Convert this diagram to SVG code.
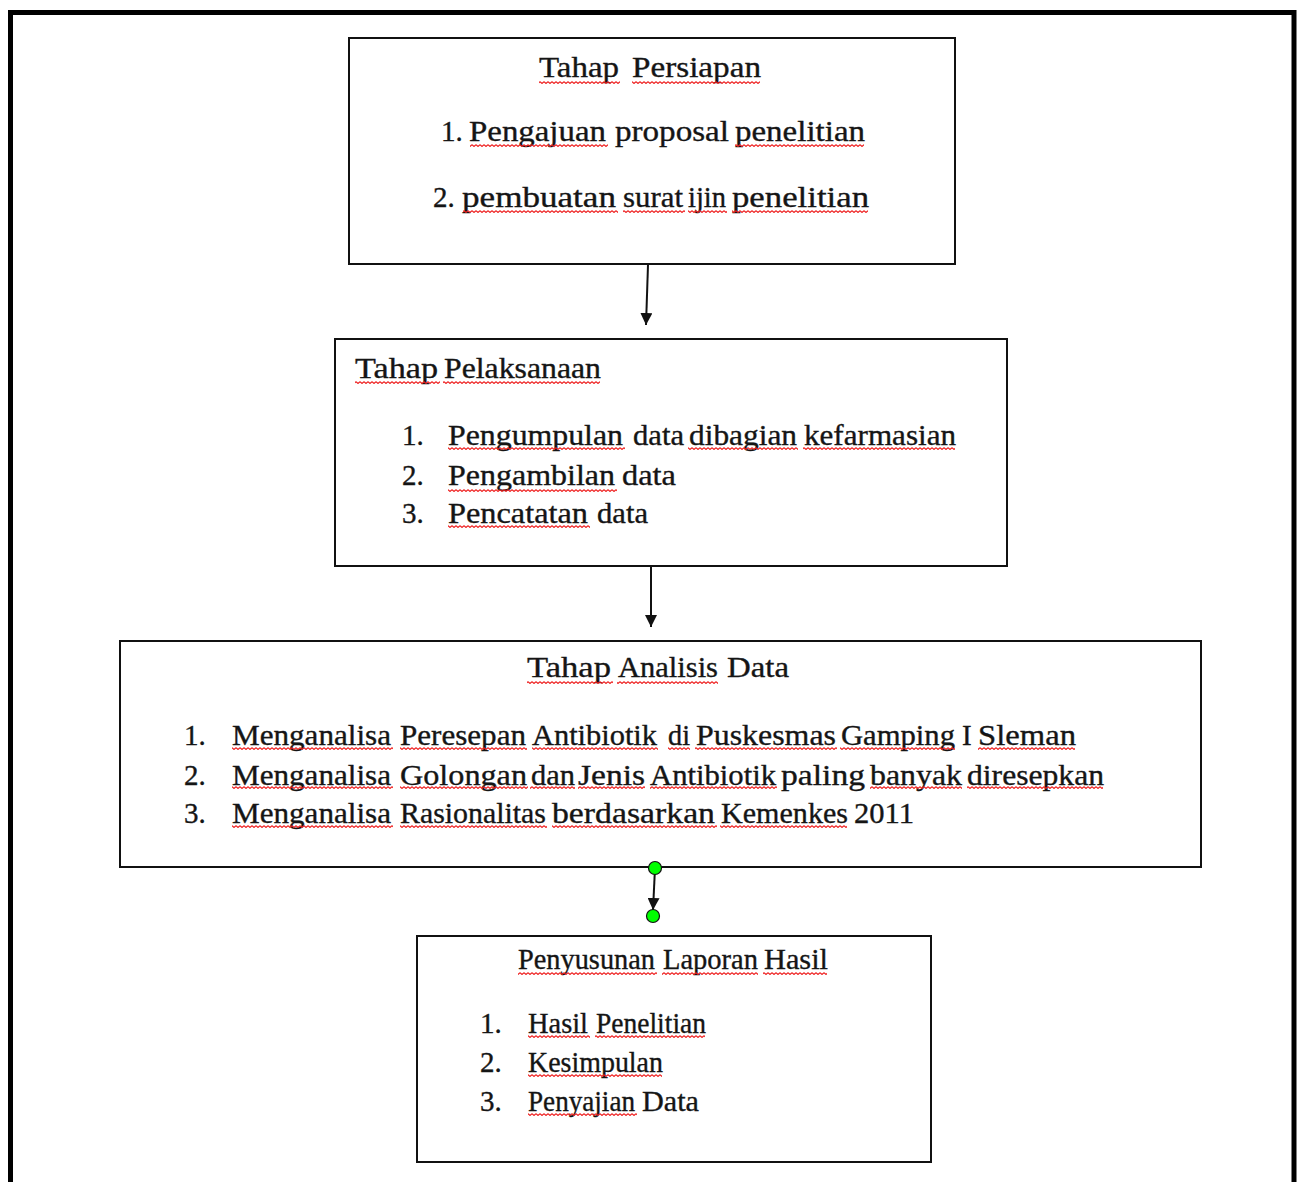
<svg xmlns="http://www.w3.org/2000/svg" width="1299" height="1182" viewBox="0 0 1299 1182">
<style>
.frame{fill:none;stroke:#000;stroke-width:5}
.box{fill:#fff;stroke:#111;stroke-width:2}
.t{font-family:"Liberation Serif","Times New Roman",serif;font-size:29px;fill:#151515;stroke:#151515;stroke-width:0.35}
.sq{fill:url(#sq)}
.conn{stroke:#111;stroke-width:2;fill:none}
.dot{fill:#00ff00;stroke:#111;stroke-width:1.2}
</style>
<defs>
<pattern id="sq" x="0" y="0" width="4" height="3" patternUnits="userSpaceOnUse">
<path d="M0,0.6 L2,2.4 L4,0.6" fill="none" stroke="#ee1c1c" stroke-width="1.2"/>
</pattern>
<marker id="ah" viewBox="0 0 12 12" refX="12" refY="6" markerWidth="12" markerHeight="12" markerUnits="userSpaceOnUse" orient="auto">
<path d="M0,0 L12,6 L0,12 Z" fill="#111"/>
</marker>
</defs>
<rect width="1299" height="1182" fill="#fff"/>
<path class="frame" d="M10.5,1182 V12.5 H1294 V1182"/>

<g id="node-persiapan">
<rect class="box" x="349" y="38" width="606" height="226"/>
<text class="t" x="539" y="77" textLength="80" lengthAdjust="spacingAndGlyphs">Tahap</text>
<text class="t" x="632" y="77" textLength="129" lengthAdjust="spacingAndGlyphs">Persiapan</text>
<text class="t" x="441" y="141">1.</text>
<text class="t" x="469" y="141" textLength="137" lengthAdjust="spacingAndGlyphs">Pengajuan</text>
<text class="t" x="615" y="141" textLength="114" lengthAdjust="spacingAndGlyphs">proposal</text>
<text class="t" x="735" y="141" textLength="130" lengthAdjust="spacingAndGlyphs">penelitian</text>
<text class="t" x="433" y="207">2.</text>
<text class="t" x="462" y="207" textLength="154" lengthAdjust="spacingAndGlyphs">pembuatan</text>
<text class="t" x="623" y="207" textLength="60" lengthAdjust="spacingAndGlyphs">surat</text>
<text class="t" x="688" y="207" textLength="38" lengthAdjust="spacingAndGlyphs">ijin</text>
<text class="t" x="732" y="207" textLength="137" lengthAdjust="spacingAndGlyphs">penelitian</text>
<g>
<rect class="sq" x="539" y="81" width="81" height="3"/>
<rect class="sq" x="632" y="81" width="128" height="3"/>
<rect class="sq" x="470" y="144" width="138" height="3"/>
<rect class="sq" x="735" y="144" width="129" height="3"/>
<rect class="sq" x="463" y="210" width="155" height="3"/>
<rect class="sq" x="623" y="210" width="62" height="3"/>
<rect class="sq" x="688" y="210" width="39" height="3"/>
<rect class="sq" x="732" y="210" width="136" height="3"/>
</g>
</g>

<g id="node-pelaksanaan">
<rect class="box" x="335" y="339" width="672" height="227"/>
<text class="t" x="355" y="378" textLength="83" lengthAdjust="spacingAndGlyphs">Tahap</text>
<text class="t" x="444" y="378" textLength="157" lengthAdjust="spacingAndGlyphs">Pelaksanaan</text>
<text class="t" x="402" y="445">1.</text>
<text class="t" x="448" y="445" textLength="175" lengthAdjust="spacingAndGlyphs">Pengumpulan</text>
<text class="t" x="633" y="445" textLength="51" lengthAdjust="spacingAndGlyphs">data</text>
<text class="t" x="689" y="445" textLength="108" lengthAdjust="spacingAndGlyphs">dibagian</text>
<text class="t" x="804" y="445" textLength="152" lengthAdjust="spacingAndGlyphs">kefarmasian</text>
<text class="t" x="402" y="485">2.</text>
<text class="t" x="448" y="485" textLength="167" lengthAdjust="spacingAndGlyphs">Pengambilan</text>
<text class="t" x="622" y="485" textLength="54" lengthAdjust="spacingAndGlyphs">data</text>
<text class="t" x="402" y="523">3.</text>
<text class="t" x="448" y="523" textLength="140" lengthAdjust="spacingAndGlyphs">Pencatatan</text>
<text class="t" x="597" y="523" textLength="51" lengthAdjust="spacingAndGlyphs">data</text>
<g>
<rect class="sq" x="355" y="381" width="85" height="3"/>
<rect class="sq" x="443" y="381" width="157" height="3"/>
<rect class="sq" x="448" y="447" width="177" height="3"/>
<rect class="sq" x="688" y="447" width="110" height="3"/>
<rect class="sq" x="803" y="447" width="152" height="3"/>
<rect class="sq" x="448" y="489" width="169" height="3"/>
<rect class="sq" x="448" y="525" width="142" height="3"/>
</g>
</g>

<g id="node-analisis">
<rect class="box" x="120" y="641" width="1081" height="226"/>
<text class="t" x="527" y="677" textLength="84" lengthAdjust="spacingAndGlyphs">Tahap</text>
<text class="t" x="618" y="677" textLength="100" lengthAdjust="spacingAndGlyphs">Analisis</text>
<text class="t" x="727" y="677" textLength="62" lengthAdjust="spacingAndGlyphs">Data</text>
<text class="t" x="184" y="745">1.</text>
<text class="t" x="232" y="745" textLength="159" lengthAdjust="spacingAndGlyphs">Menganalisa</text>
<text class="t" x="400" y="745" textLength="126" lengthAdjust="spacingAndGlyphs">Peresepan</text>
<text class="t" x="532" y="745" textLength="125" lengthAdjust="spacingAndGlyphs">Antibiotik</text>
<text class="t" x="668" y="745" textLength="22" lengthAdjust="spacingAndGlyphs">di</text>
<text class="t" x="696" y="745" textLength="140" lengthAdjust="spacingAndGlyphs">Puskesmas</text>
<text class="t" x="841" y="745" textLength="114" lengthAdjust="spacingAndGlyphs">Gamping</text>
<text class="t" x="962" y="745">I</text>
<text class="t" x="978" y="745" textLength="98" lengthAdjust="spacingAndGlyphs">Sleman</text>
<text class="t" x="184" y="785">2.</text>
<text class="t" x="232" y="785" textLength="159" lengthAdjust="spacingAndGlyphs">Menganalisa</text>
<text class="t" x="400" y="785" textLength="127" lengthAdjust="spacingAndGlyphs">Golongan</text>
<text class="t" x="531" y="785" textLength="44" lengthAdjust="spacingAndGlyphs">dan</text>
<text class="t" x="578" y="785" textLength="67" lengthAdjust="spacingAndGlyphs">Jenis</text>
<text class="t" x="650" y="785" textLength="126" lengthAdjust="spacingAndGlyphs">Antibiotik</text>
<text class="t" x="781" y="785" textLength="84" lengthAdjust="spacingAndGlyphs">paling</text>
<text class="t" x="870" y="785" textLength="92" lengthAdjust="spacingAndGlyphs">banyak</text>
<text class="t" x="967" y="785" textLength="137" lengthAdjust="spacingAndGlyphs">diresepkan</text>
<text class="t" x="184" y="823">3.</text>
<text class="t" x="232" y="823" textLength="159" lengthAdjust="spacingAndGlyphs">Menganalisa</text>
<text class="t" x="400" y="823" textLength="146" lengthAdjust="spacingAndGlyphs">Rasionalitas</text>
<text class="t" x="552" y="823" textLength="163" lengthAdjust="spacingAndGlyphs">berdasarkan</text>
<text class="t" x="721" y="823" textLength="127" lengthAdjust="spacingAndGlyphs">Kemenkes</text>
<text class="t" x="854" y="823" textLength="60" lengthAdjust="spacingAndGlyphs">2011</text>
<g>
<rect class="sq" x="527" y="681" width="86" height="3"/>
<rect class="sq" x="617" y="681" width="101" height="3"/>
<rect class="sq" x="232" y="747" width="161" height="3"/>
<rect class="sq" x="400" y="747" width="127" height="3"/>
<rect class="sq" x="532" y="747" width="126" height="3"/>
<rect class="sq" x="668" y="747" width="22" height="3"/>
<rect class="sq" x="695" y="747" width="142" height="3"/>
<rect class="sq" x="840" y="747" width="115" height="3"/>
<rect class="sq" x="978" y="747" width="97" height="3"/>
<rect class="sq" x="232" y="786" width="161" height="3"/>
<rect class="sq" x="400" y="786" width="128" height="3"/>
<rect class="sq" x="530" y="786" width="45" height="3"/>
<rect class="sq" x="578" y="786" width="67" height="3"/>
<rect class="sq" x="650" y="786" width="127" height="3"/>
<rect class="sq" x="870" y="786" width="92" height="3"/>
<rect class="sq" x="967" y="786" width="136" height="3"/>
<rect class="sq" x="232" y="825" width="161" height="3"/>
<rect class="sq" x="400" y="825" width="147" height="3"/>
<rect class="sq" x="552" y="825" width="165" height="3"/>
<rect class="sq" x="720" y="825" width="127" height="3"/>
</g>
</g>

<g id="node-laporan">
<rect class="box" x="417" y="936" width="514" height="226"/>
<text class="t" x="518" y="969" textLength="137" lengthAdjust="spacingAndGlyphs">Penyusunan</text>
<text class="t" x="663" y="969" textLength="95" lengthAdjust="spacingAndGlyphs">Laporan</text>
<text class="t" x="764" y="969" textLength="64" lengthAdjust="spacingAndGlyphs">Hasil</text>
<text class="t" x="480" y="1033">1.</text>
<text class="t" x="528" y="1033" textLength="60" lengthAdjust="spacingAndGlyphs">Hasil</text>
<text class="t" x="596" y="1033" textLength="110" lengthAdjust="spacingAndGlyphs">Penelitian</text>
<text class="t" x="480" y="1072">2.</text>
<text class="t" x="528" y="1072" textLength="135" lengthAdjust="spacingAndGlyphs">Kesimpulan</text>
<text class="t" x="480" y="1111">3.</text>
<text class="t" x="528" y="1111" textLength="107" lengthAdjust="spacingAndGlyphs">Penyajian</text>
<text class="t" x="642" y="1111" textLength="57" lengthAdjust="spacingAndGlyphs">Data</text>
<g>
<rect class="sq" x="518" y="972" width="139" height="3"/>
<rect class="sq" x="662" y="972" width="96" height="3"/>
<rect class="sq" x="763" y="972" width="64" height="3"/>
<rect class="sq" x="528" y="1035" width="62" height="3"/>
<rect class="sq" x="595" y="1035" width="110" height="3"/>
<rect class="sq" x="528" y="1074" width="134" height="3"/>
<rect class="sq" x="528" y="1113" width="109" height="3"/>
</g>
</g>

<g id="connectors">
<line class="conn" x1="648" y1="265" x2="646" y2="325" marker-end="url(#ah)"/>
<line class="conn" x1="651" y1="567" x2="651" y2="627" marker-end="url(#ah)"/>
<line class="conn" x1="655" y1="868" x2="653" y2="910" marker-end="url(#ah)"/>
<circle class="dot" cx="655" cy="868" r="6.5"/>
<circle class="dot" cx="653" cy="916" r="6.5"/>
</g>
</svg>
